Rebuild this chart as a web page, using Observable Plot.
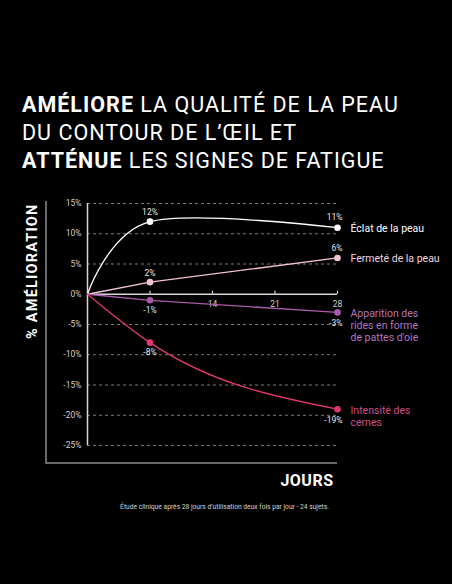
<!DOCTYPE html>
<html>
<head>
<meta charset="utf-8">
<script src="https://cdn.jsdelivr.net/npm/d3@7"></script>
<script src="https://cdn.jsdelivr.net/npm/@observablehq/plot@0.6"></script>
<style>
  html, body { margin: 0; padding: 0; background: #000; }
  #page { width: 452px; height: 584px; background: #000; overflow: hidden; }
  #title { height: 185px; box-sizing: border-box; padding: 91px 0 0 22px; color: #fff;
           font-family: Roboto, "DejaVu Sans", sans-serif; font-size: 21.5px; line-height: 28px; font-weight: 400;
           letter-spacing: 1px; white-space: nowrap; }
  #title b { font-weight: 700; }
  #chart svg { display: block; }
</style>
</head>
<body>
<div id="page">
  <div id="title"><b>AMÉLIORE</b> LA QUALITÉ DE LA PEAU<br>DU CONTOUR DE L’ŒIL ET<br><b>ATTÉNUE</b> LES SIGNES DE FATIGUE</div>
  <div id="chart"></div>
</div>
<script>
// ---- data ----
const days = [0, 7, 28];
const eclat = [0, 12, 11];
const fermete = [0, 2, 6];
const rides = [0, -1, -3];
const cernes = [0, -8, -19];
const seriesNames = [
  "Éclat de la peau",
  "Fermeté de la peau",
  "Apparition des\nrides en forme\nde pattes d'oie",
  "Intensité des\ncernes"
];
const yTicks = [15, 10, 5, 0, -5, -10, -15, -20, -25];
const xTicks = [7, 14, 21, 28];
const xTickLabels = [14, 21, 28];
const yLabel = "% AMÉLIORATION";
const xLabel = "JOURS";
const footnote = "Étude clinique après 28 jours d’utilisation deux fois par jour - 24 sujets.";

// ---- styling ----
const seriesValues = [eclat, fermete, rides, cernes];
const lineColors = ["#ffffff", "#f2c3d1", "#a95aab", "#e2386f"];
const labelColors = ["#ffffff", "#f3d4dd", "#b676bc", "#cf4e86"];
const curves = ["cardinal", "linear", "linear", "monotone-x"];

const rows = seriesNames.flatMap((name, s) =>
  days.map((day, i) => ({s, name, day, value: seriesValues[s][i]}))
);
const pts = rows.filter(r => r.day > 0);
const fmt = v => `${v}%`;

const frameDeco = (index, scales, values, dims) => {
  const p = d3.create("svg:path")
    .attr("fill", "none")
    .attr("stroke", "#8c8c8c")
    .attr("stroke-width", 1.5)
    .attr("d", `M${dims.marginLeft - 41},${dims.marginTop - 2}V${dims.height - dims.marginBottom + 18}H${dims.width - dims.marginRight}`);
  return p.node();
};

const chart = Plot.plot({
  width: 452,
  height: 399,
  marginTop: 18,
  marginBottom: 139,
  marginLeft: 87,
  marginRight: 115,
  style: {background: "#000", color: "#ddd", fontFamily: "Roboto, 'DejaVu Sans', sans-serif", overflow: "visible"},
  x: {domain: [0, 28], axis: null},
  y: {domain: [-25, 15], axis: null},
  color: {type: "identity"},
  marks: [
    frameDeco,
    Plot.ruleY(yTicks.filter(t => t !== 0), {stroke: "#8a8a8a", strokeWidth: 0.9, strokeDasharray: "3,3"}),
    Plot.ruleX([0], {stroke: "#d8d8d8", strokeWidth: 1.5}),
    Plot.ruleY([0], {stroke: "#d8d8d8", strokeWidth: 1.5}),
    Plot.ruleX(xTicks, {x: d => d, y1: 0, y2: 0, insetTop: -3, stroke: "#d8d8d8", strokeWidth: 1.2}),
    Plot.text(xTickLabels, {x: d => d, y: 0, text: d => String(d), dy: 10, fontSize: 8.5, fill: "#d0d0d0"}),
    Plot.text(yTicks, {y: d => d, text: fmt, frameAnchor: "left", textAnchor: "end", dx: -6, fontSize: 8.5, fill: "#cfcfcf"}),
    ...seriesNames.map((n, s) => Plot.line(rows.filter(r => r.s === s), {
      x: "day", y: "value", stroke: lineColors[s], strokeWidth: 1.3, curve: curves[s]
    })),
    Plot.dot(pts, {x: "day", y: "value", fill: r => lineColors[r.s], r: 3.3}),
    // value labels
    Plot.text(pts.filter(r => r.day === 7 && r.value > 0), {x: "day", y: "value", text: r => fmt(r.value), dy: -9, fontSize: 8.5, fill: "#e6e6e6"}),
    Plot.text(pts.filter(r => r.day === 7 && r.value < 0), {x: "day", y: "value", text: r => fmt(r.value), dy: 10, fontSize: 8.5, fill: "#e6e6e6"}),
    Plot.text(pts.filter(r => r.day === 28 && r.value > 0), {x: "day", y: "value", text: r => fmt(r.value), textAnchor: "end", dx: 5, dy: -10, fontSize: 8.5, fill: "#e6e6e6"}),
    Plot.text(pts.filter(r => r.day === 28 && r.value < 0), {x: "day", y: "value", text: r => fmt(r.value), textAnchor: "end", dx: 5, dy: 11, fontSize: 8.5, fill: "#e6e6e6"}),
    // series labels
    Plot.text(pts.filter(r => r.day === 28), {x: "day", y: "value", text: "name", fill: r => labelColors[r.s],
      textAnchor: "start", lineAnchor: "top", lineHeight: 1.18, dx: 13, dy: -4.5, fontSize: 10.5}),
    // axis titles
    Plot.text([yLabel], {frameAnchor: "top-left", rotate: -90, textAnchor: "end", lineAnchor: "middle", dx: -55, dy: 0,
      fontSize: 14.5, fontWeight: "bold", fill: "#ffffff"}),
    Plot.text([xLabel], {frameAnchor: "bottom-right", textAnchor: "end", lineAnchor: "bottom", dx: -4, dy: 40,
      fontSize: 16, fontWeight: "bold", fill: "#ffffff"}),
    Plot.text([footnote], {frameAnchor: "bottom", lineAnchor: "bottom", dx: 12, dy: 63, fontSize: 6.7, fill: "#d0d0d0"})
  ]
});
// letter spacing for the condensed-looking headings
d3.select(chart).selectAll("text").filter(function() { return this.textContent === yLabel; })
  .attr("letter-spacing", "1.2px");
d3.select(chart).selectAll("text").filter(function() { return this.textContent === xLabel; })
  .attr("letter-spacing", "0.5px");
document.getElementById("chart").appendChild(chart);
</script>
</body>
</html>
